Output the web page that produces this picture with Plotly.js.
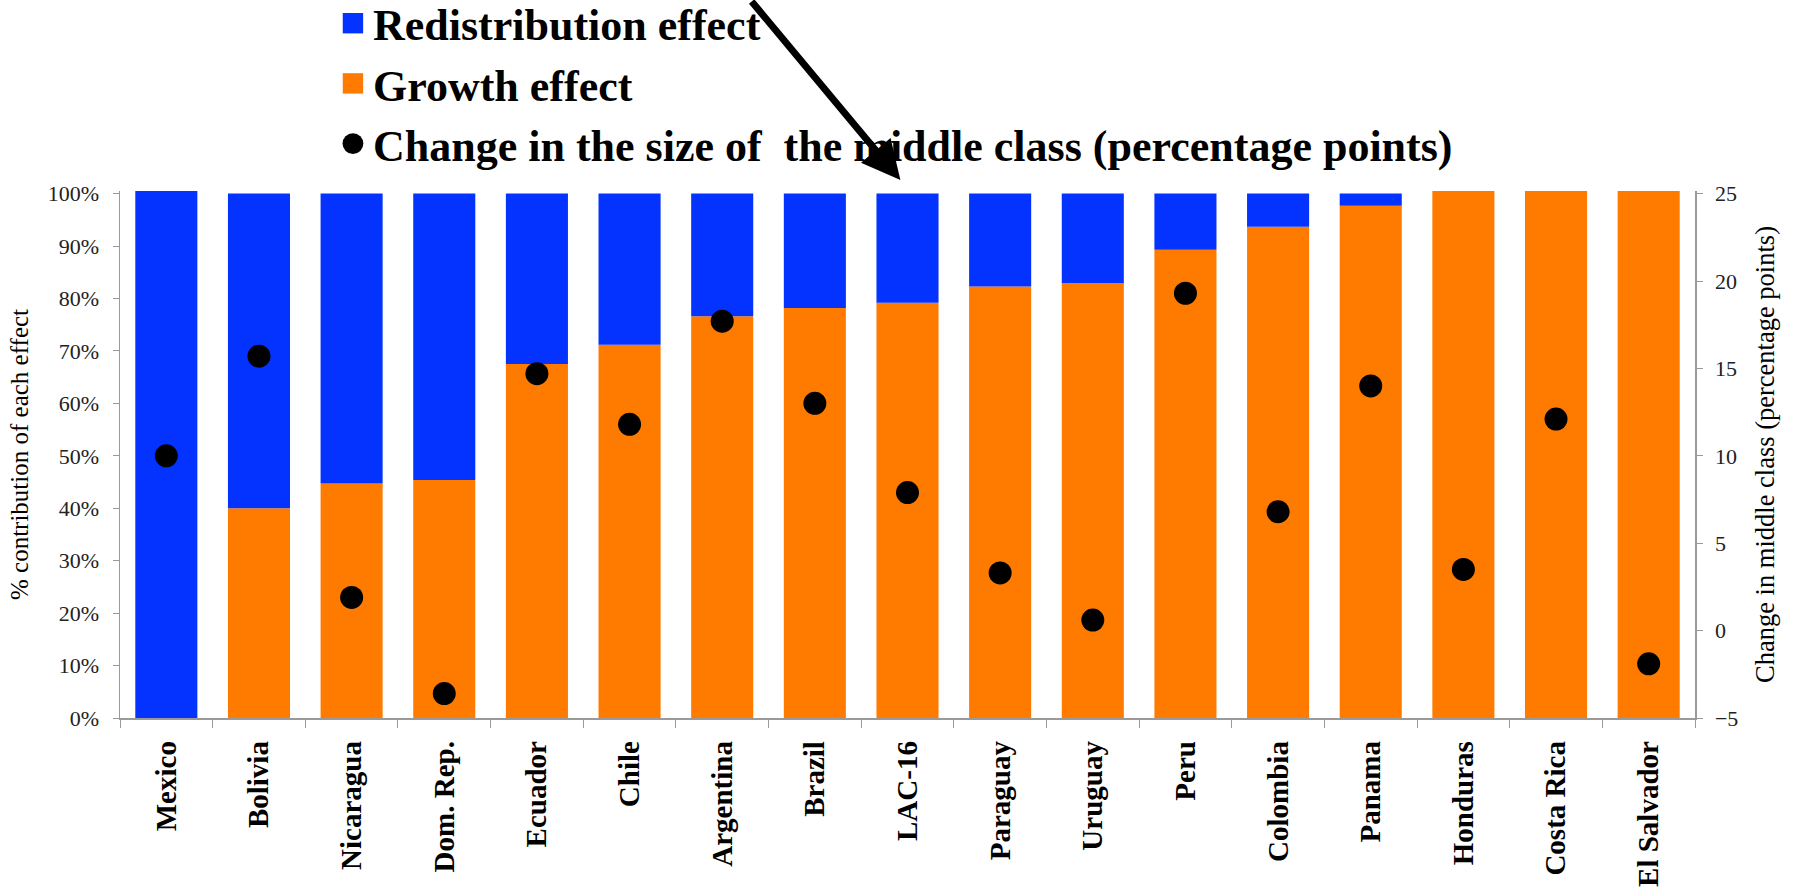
<!DOCTYPE html>
<html>
<head>
<meta charset="utf-8">
<script src="https://cdn.plot.ly/plotly-3.0.1.min.js"></script>
<style>
html,body{margin:0;padding:0;background:#fff;}
#chart{width:1797px;height:889px;}
</style>
</head>
<body>
<div id="chart"></div>
<script>
// ---- data ----
const categories = ['Mexico','Bolivia','Nicaragua','Dom. Rep.','Ecuador','Chile','Argentina','Brazil','LAC-16','Paraguay','Uruguay','Peru','Colombia','Panama','Honduras','Costa Rica','El Salvador'];
// % contribution of each effect
const growthEffect = [-0.5, 40.0, 44.7, 45.4, 67.5, 71.2, 76.6, 78.2, 79.2, 82.3, 82.9, 89.3, 93.7, 97.7, 100.5, 100.5, 100.5];
const redistributionEffect = [100.5, 60.0, 55.3, 54.6, 32.5, 28.8, 23.4, 21.8, 20.8, 17.7, 17.1, 10.7, 6.3, 2.3, -0.5, -0.5, -0.5];
// change in the size of the middle class (percentage points)
const middleClassChange = [10.0, 15.7, 1.9, -3.6, 14.7, 11.8, 17.7, 13.0, 7.9, 3.3, 0.6, 19.3, 6.8, 14.0, 3.5, 12.1, -1.9];

const leftTicks = [0,10,20,30,40,50,60,70,80,90,100];
const leftTickLabels = ['0%','10%','20%','30%','40%','50%','60%','70%','80%','90%','100%'];
const rightTicks = [-5,0,5,10,15,20,25];

const BLUE = '#0433FF';
const ORANGE = '#FF7B00';
const SERIF = '"Liberation Serif", "Times New Roman", serif';

const traces = [
  {
    type: 'bar', name: 'Growth effect', x: categories, y: growthEffect,
    marker: {color: ORANGE, line: {width: 0}}, legendrank: 2, legendgroup: 'g2'
  },
  {
    type: 'bar', name: 'Redistribution effect', x: categories, y: redistributionEffect,
    marker: {color: BLUE, line: {width: 0}}, legendrank: 1, legendgroup: 'g1'
  },
  {
    type: 'scatter', mode: 'markers', name: 'Change in the size of  the middle class (percentage points)',
    x: categories, y: middleClassChange, yaxis: 'y2',
    marker: {color: '#000', size: 23}, legendrank: 3, legendgroup: 'g3'
  }
];

const layout = {
  width: 1797, height: 889,
  margin: {l: 120, r: 102, t: 191, b: 171, pad: 0, autoexpand: false},
  paper_bgcolor: '#fff', plot_bgcolor: '#fff',
  barmode: 'relative', bargap: 0.33,
  font: {family: SERIF, color: '#222'},
  showlegend: true,
  legend: {
    x: 0.1352, xanchor: 'left', y: 1.385, yanchor: 'top',
    orientation: 'v', traceorder: 'normal', tracegroupgap: 9.5,
    font: {family: SERIF, size: 44, color: '#000', weight: 'bold'},
    bgcolor: 'rgba(0,0,0,0)', itemclick: false
  },
  xaxis: {
    type: 'category', tickangle: -90, range: [-0.5, categories.length - 0.5],
    tickfont: {family: SERIF, size: 29, color: '#000', weight: 'bold'},
    showline: true, linecolor: '#9a9a9a', linewidth: 1.5,
    ticks: 'outside', tickson: 'boundaries', ticklen: 8, tickcolor: '#9a9a9a',
    showgrid: false, zeroline: false, ticklabelstandoff: 10, automargin: false
  },
  yaxis: {
    range: [0, 100.5], tickmode: 'array', tickvals: leftTicks, ticktext: leftTickLabels,
    tickfont: {family: SERIF, size: 22, color: '#222'},
    showline: true, linecolor: '#9a9a9a', linewidth: 1.5,
    ticks: 'outside', ticklen: 6, tickcolor: '#9a9a9a', ticklabelstandoff: 9,
    showgrid: false, zeroline: false, automargin: false,
    title: {text: '% contribution of each effect', font: {family: SERIF, size: 25, color: '#000'}, standoff: 12}
  },
  yaxis2: {
    overlaying: 'y', side: 'right', range: [-5, 25.15], tickmode: 'array', tickvals: rightTicks,
    tickfont: {family: SERIF, size: 22, color: '#222'},
    showline: true, linecolor: '#9a9a9a', linewidth: 1.5,
    ticks: 'outside', ticklen: 6, tickcolor: '#9a9a9a', ticklabelstandoff: 8,
    showgrid: false, zeroline: false, automargin: false,
    title: {text: 'Change in middle class (percentage points)', font: {family: SERIF, size: 26.5, color: '#000'}, standoff: 18}
  },
  annotations: [{
    xref: 'paper', yref: 'paper', x: 0.4955, y: 1.021,
    ax: -150, ay: -190, text: '', showarrow: true,
    arrowhead: 2, arrowsize: 1.1, arrowwidth: 7, arrowcolor: '#000'
  }]
};

Plotly.newPlot('chart', traces, layout, {displayModeBar: false, staticPlot: true}).then(function () {
  // enlarge legend symbols to match reference
  document.querySelectorAll('.legend .traces').forEach(function (t) {
    const pts = t.querySelector('.legendpoints');
    if (!pts) return;
    const isScatter = pts.querySelector('.scatterpts') !== null;
    const s = isScatter ? 1.3 : 1.7;
    pts.setAttribute('transform', 'translate(20,0) scale(' + s + ') translate(-20,0)');
  });
});
</script>
</body>
</html>
